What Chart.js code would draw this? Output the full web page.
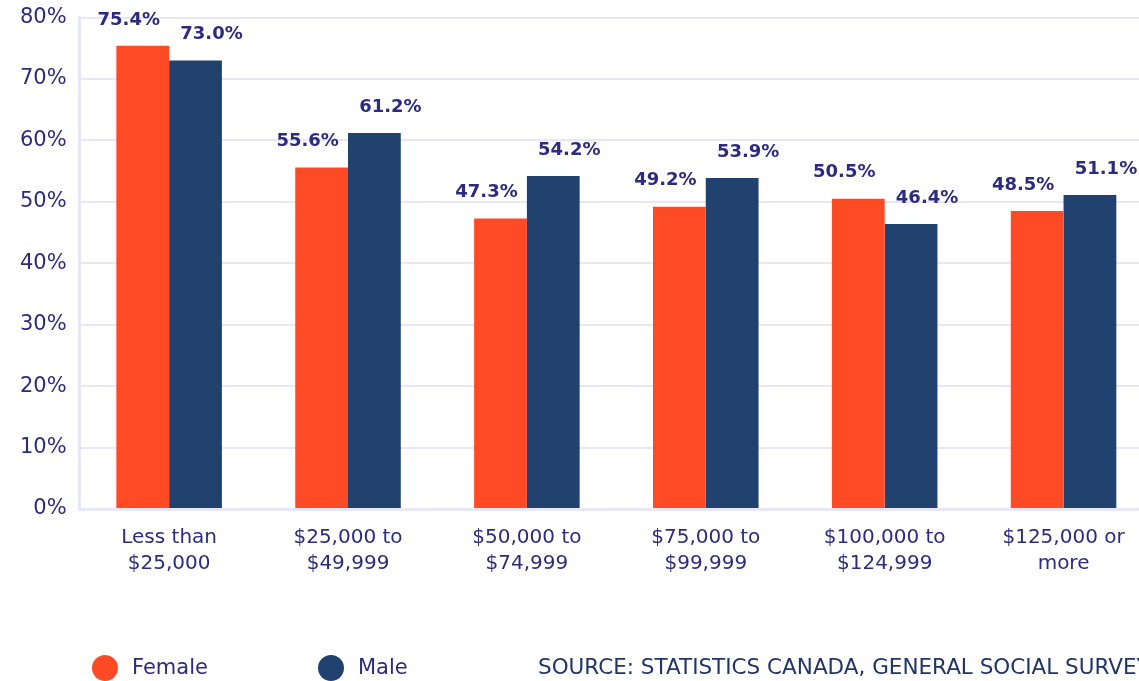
<!DOCTYPE html>
<html>
<head>
<meta charset="utf-8">
<script src="https://cdn.jsdelivr.net/npm/chart.js@4/dist/chart.umd.min.js"></script>
<style>
  html, body { margin: 0; padding: 0; background: #fff; overflow: hidden; }
  #wrap { width: 1153px; height: 689px; margin-top: -8px; }
</style>
</head>
<body>
<div id="wrap"><canvas id="chart"></canvas></div>
<script>
const categories = [
   ['Less than', '$25,000'],
   ['$25,000 to', '$49,999'],
   ['$50,000 to', '$74,999'],
   ['$75,000 to', '$99,999'],
   ['$100,000 to', '$124,999'],
   ['$125,000 or', 'more']
];
const femaleValues = [75.4, 55.6, 47.3, 49.2, 50.5, 48.5];
const maleValues = [73.0, 61.2, 54.2, 53.9, 46.4, 51.1];
const seriesNames = ['Female', 'Male'];
const sourceText = 'SOURCE: STATISTICS CANADA, GENERAL SOCIAL SURVEY';

const FONT = '"DejaVu Sans", sans-serif';
const textColor = '#2d2b80';
const gridColor = '#e8e7f6';

// value labels above each bar, female nudged left, male right
const barLabels = {
   id: 'barLabels',
   afterDatasetsDraw(chart) {
      const ctx = chart.ctx;
      const shift = [-14, 16];
      ctx.save();
      ctx.font = 'bold 18px ' + FONT;
      ctx.fillStyle = textColor;
      ctx.textAlign = 'center';
      ctx.textBaseline = 'bottom';
      chart.data.datasets.forEach((ds, i) => {
         chart.getDatasetMeta(i).data.forEach((bar, j) => {
            ctx.fillText(ds.data[j].toFixed(1) + '%', bar.x + shift[i], bar.y - 17);
         });
      });
      ctx.restore();
   }
};

// legend + source line at the bottom (canvas is shifted up 8px)
const bottomLegend = {
   id: 'bottomLegend',
   afterDraw(chart) {
      const ctx = chart.ctx;
      const y = 676;
      const xs = [105, 331];
      ctx.save();
      chart.data.datasets.forEach((ds, i) => {
         ctx.beginPath();
         ctx.arc(xs[i], y, 13, 0, Math.PI * 2);
         ctx.fillStyle = ds.backgroundColor;
         ctx.fill();
         ctx.font = '21px ' + FONT;
         ctx.fillStyle = textColor;
         ctx.textAlign = 'left';
         ctx.textBaseline = 'middle';
         ctx.fillText(ds.label, xs[i] + 27, y + 1);
      });
      ctx.font = '21.5px ' + FONT;
      ctx.fillStyle = '#1f3468';
      ctx.fillText(sourceText, 538, y);
      ctx.restore();
   }
};

new Chart(document.getElementById('chart'), {
   type: 'bar',
   data: {
      labels: categories,
      datasets: [{
         label: seriesNames[0],
         data: femaleValues,
         backgroundColor: '#ff4a26',
         borderWidth: 0
      }, {
         label: seriesNames[1],
         data: maleValues,
         backgroundColor: '#21416f',
         borderWidth: 0
      }]
   },
   options: {
      responsive: true,
      maintainAspectRatio: false,
      animation: false,
      layout: { padding: { left: 7, top: 0, right: 0, bottom: 96 } },
      datasets: {
         bar: { barPercentage: 1, categoryPercentage: 0.59 }
      },
      plugins: {
         legend: { display: false },
         tooltip: { enabled: false }
      },
      scales: {
         x: {
            grid: { display: false },
            border: { color: gridColor, width: 3 },
            ticks: {
               color: textColor,
               font: { family: FONT, size: 20, lineHeight: 1.3 },
               padding: 8,
               maxRotation: 0
            }
         },
         y: {
            min: 0,
            max: 80,
            grid: { color: gridColor, lineWidth: 2, drawTicks: false },
            border: { color: gridColor, width: 3 },
            ticks: {
               stepSize: 10,
               color: textColor,
               font: { family: FONT, size: 21 },
               padding: 13,
               callback: (v) => v + '%'
            }
         }
      }
   },
   plugins: [barLabels, bottomLegend]
});
</script>
</body>
</html>
